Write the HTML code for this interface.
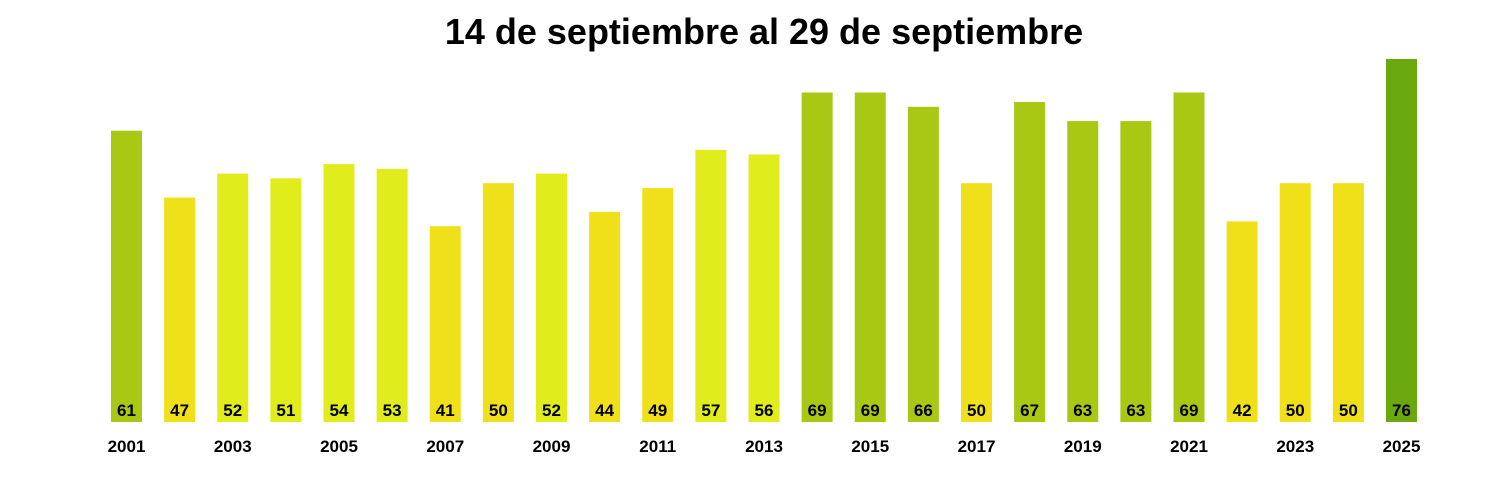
<!DOCTYPE html>
<html><head><meta charset="utf-8"><style>html,body{margin:0;padding:0;background:#fff}svg{display:block}</style></head>
<body>
<svg width="1500" height="500" xmlns="http://www.w3.org/2000/svg" font-family="Liberation Sans, Arial, sans-serif">
<rect width="1500" height="500" fill="#fff"/>
<text x="764" y="44" text-anchor="middle" font-size="36" font-weight="bold" fill="#000">14 de septiembre al 29 de septiembre</text>
<g>
<rect x="111" y="130.7" width="31" height="291.3" fill="#A8C814"/>
<rect x="164.125" y="197.5" width="31" height="224.5" fill="#F0E01A"/>
<rect x="217.25" y="173.6" width="31" height="248.4" fill="#E0EC1C"/>
<rect x="270.375" y="178.4" width="31" height="243.6" fill="#E0EC1C"/>
<rect x="323.5" y="164.1" width="31" height="257.9" fill="#E0EC1C"/>
<rect x="376.625" y="168.9" width="31" height="253.1" fill="#E0EC1C"/>
<rect x="429.75" y="226.2" width="31" height="195.8" fill="#F0E01A"/>
<rect x="482.875" y="183.2" width="31" height="238.8" fill="#F0E01A"/>
<rect x="536" y="173.6" width="31" height="248.4" fill="#E0EC1C"/>
<rect x="589.125" y="211.9" width="31" height="210.1" fill="#F0E01A"/>
<rect x="642.25" y="188" width="31" height="234" fill="#F0E01A"/>
<rect x="695.375" y="149.8" width="31" height="272.2" fill="#E0EC1C"/>
<rect x="748.5" y="154.5" width="31" height="267.5" fill="#E0EC1C"/>
<rect x="801.625" y="92.5" width="31" height="329.5" fill="#A8C814"/>
<rect x="854.75" y="92.5" width="31" height="329.5" fill="#A8C814"/>
<rect x="907.875" y="106.8" width="31" height="315.2" fill="#A8C814"/>
<rect x="961" y="183.2" width="31" height="238.8" fill="#F0E01A"/>
<rect x="1014.125" y="102" width="31" height="320" fill="#A8C814"/>
<rect x="1067.25" y="121.1" width="31" height="300.9" fill="#A8C814"/>
<rect x="1120.375" y="121.1" width="31" height="300.9" fill="#A8C814"/>
<rect x="1173.5" y="92.5" width="31" height="329.5" fill="#A8C814"/>
<rect x="1226.625" y="221.4" width="31" height="200.6" fill="#F0E01A"/>
<rect x="1279.75" y="183.2" width="31" height="238.8" fill="#F0E01A"/>
<rect x="1332.875" y="183.2" width="31" height="238.8" fill="#F0E01A"/>
<rect x="1386" y="59" width="31" height="363" fill="#6AA80E"/>
</g>
<g font-size="17" font-weight="bold" text-anchor="middle" fill="#000">
<text x="126.5" y="416">61</text>
<text x="179.625" y="416">47</text>
<text x="232.75" y="416">52</text>
<text x="285.875" y="416">51</text>
<text x="339" y="416">54</text>
<text x="392.125" y="416">53</text>
<text x="445.25" y="416">41</text>
<text x="498.375" y="416">50</text>
<text x="551.5" y="416">52</text>
<text x="604.625" y="416">44</text>
<text x="657.75" y="416">49</text>
<text x="710.875" y="416">57</text>
<text x="764" y="416">56</text>
<text x="817.125" y="416">69</text>
<text x="870.25" y="416">69</text>
<text x="923.375" y="416">66</text>
<text x="976.5" y="416">50</text>
<text x="1029.625" y="416">67</text>
<text x="1082.75" y="416">63</text>
<text x="1135.875" y="416">63</text>
<text x="1189" y="416">69</text>
<text x="1242.125" y="416">42</text>
<text x="1295.25" y="416">50</text>
<text x="1348.375" y="416">50</text>
<text x="1401.5" y="416">76</text>
<text x="126.5" y="452">2001</text>
<text x="232.75" y="452">2003</text>
<text x="339" y="452">2005</text>
<text x="445.25" y="452">2007</text>
<text x="551.5" y="452">2009</text>
<text x="657.75" y="452">2011</text>
<text x="764" y="452">2013</text>
<text x="870.25" y="452">2015</text>
<text x="976.5" y="452">2017</text>
<text x="1082.75" y="452">2019</text>
<text x="1189" y="452">2021</text>
<text x="1295.25" y="452">2023</text>
<text x="1401.5" y="452">2025</text>
</g>
</svg>
</body></html>
